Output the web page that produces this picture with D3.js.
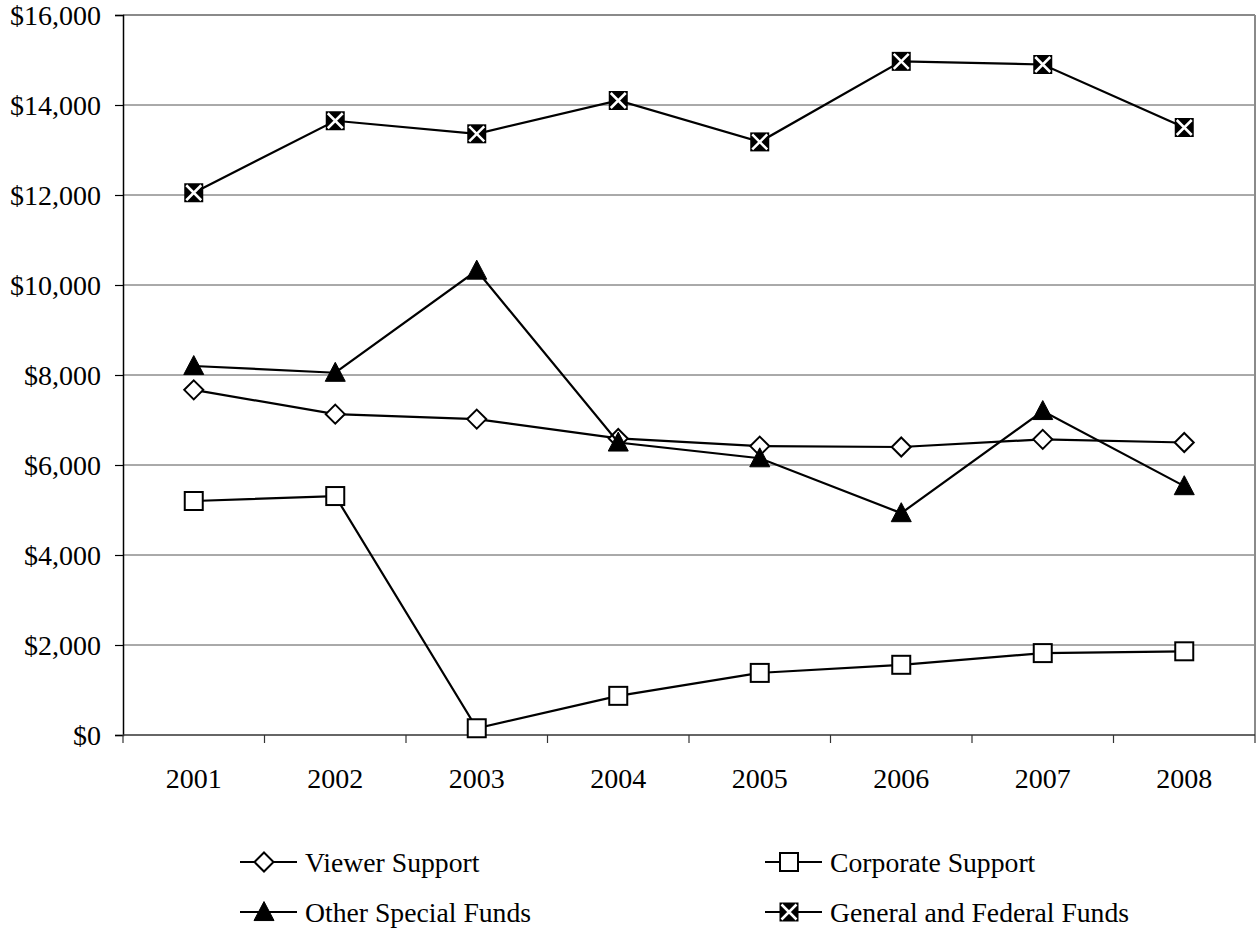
<!DOCTYPE html>
<html>
<head>
<meta charset="utf-8">
<script src="https://cdn.jsdelivr.net/npm/d3@7"></script>
<style>
  html, body { margin: 0; padding: 0; background: #fff; }
  svg { display: block; }
  text { font-family: "Liberation Serif", "Times New Roman", serif; fill: #000; }
</style>
</head>
<body>
<svg id="chart" width="1256" height="930"></svg>
<script>
// Funding sources by year (thousands of dollars)
const years = ["2001", "2002", "2003", "2004", "2005", "2006", "2007", "2008"];
const viewerSupport   = [7670, 7130, 7020, 6590, 6420, 6400, 6570, 6500];
const corporateSupport = [5200, 5310, 150, 870, 1380, 1560, 1820, 1860];
const otherSpecial    = [8200, 8050, 10320, 6500, 6150, 4930, 7200, 5530];
const generalFederal  = [12050, 13650, 13360, 14100, 13180, 14970, 14900, 13500];
const yTicks = [0, 2000, 4000, 6000, 8000, 10000, 12000, 14000, 16000];

const series = [
  { name: "Viewer Support", values: viewerSupport, marker: "diamond" },
  { name: "Corporate Support", values: corporateSupport, marker: "square" },
  { name: "Other Special Funds", values: otherSpecial, marker: "triangle" },
  { name: "General and Federal Funds", values: generalFederal, marker: "xsquare" }
];

const FONT = "Liberation Serif, Times New Roman, serif";
const FS = 28;
const LEGEND_FS = 27.7;

const svg = d3.select("#chart");
const plot = { left: 123, top: 15, right: 1255, bottom: 735 };

const x = d3.scaleBand().domain(years).range([plot.left, plot.right]);
const y = d3.scaleLinear().domain([0, 16000]).range([plot.bottom, plot.top]);

// horizontal gridlines
svg.append("g")
  .selectAll("line")
  .data(yTicks.filter(t => t > 0 && t < 16000))
  .join("line")
  .attr("x1", plot.left).attr("x2", plot.right)
  .attr("y1", d => y(d)).attr("y2", d => y(d))
  .attr("stroke", "#555").attr("stroke-width", 1);

// plot frame: top and right edges
svg.append("line")
  .attr("x1", plot.left).attr("x2", plot.right)
  .attr("y1", plot.top).attr("y2", plot.top)
  .attr("stroke", "#8a8a8a").attr("stroke-width", 2);
svg.append("line")
  .attr("x1", plot.right).attr("x2", plot.right)
  .attr("y1", plot.top).attr("y2", plot.bottom)
  .attr("stroke", "#8a8a8a").attr("stroke-width", 2);

// y axis
const yAxis = d3.axisLeft(y)
  .tickValues(yTicks)
  .tickSize(8)
  .tickPadding(14)
  .tickFormat(d => "$" + d3.format(",")(d));
const gy = svg.append("g")
  .attr("transform", `translate(${plot.left},0)`)
  .call(yAxis)
  .attr("font-family", FONT)
  .attr("font-size", FS);
gy.select(".domain").attr("stroke", "#000").attr("stroke-width", 1.5);
gy.selectAll(".tick line").attr("stroke", "#000").attr("stroke-width", 1.2);
gy.selectAll(".tick text").attr("dy", "0.34em");

// x axis: ticks at category boundaries, labels centered
const gx = svg.append("g").attr("transform", `translate(0,${plot.bottom})`);
gx.append("line")
  .attr("x1", plot.left).attr("x2", plot.right)
  .attr("y1", 0).attr("y2", 0)
  .attr("stroke", "#333").attr("stroke-width", 1.5);
const boundaries = years.map(d => x(d)).concat([plot.right]);
gx.selectAll("line.tk")
  .data(boundaries)
  .join("line")
  .attr("class", "tk")
  .attr("x1", d => d).attr("x2", d => d)
  .attr("y1", 0).attr("y2", 8)
  .attr("stroke", "#333").attr("stroke-width", 1.2);
gx.selectAll("text")
  .data(years)
  .join("text")
  .attr("x", d => x(d) + x.bandwidth() / 2)
  .attr("y", 53)
  .attr("text-anchor", "middle")
  .attr("font-size", FS)
  .text(d => d);

const cx = d => x(d) + x.bandwidth() / 2;

// marker drawing
function drawMarker(g, type, px, py) {
  if (type === "diamond") {
    const r = 9.5;
    g.append("path")
      .attr("d", `M${px},${py - r}L${px + r},${py}L${px},${py + r}L${px - r},${py}Z`)
      .attr("fill", "#fff").attr("stroke", "#000").attr("stroke-width", 2);
  } else if (type === "square") {
    const s = 18;
    g.append("rect")
      .attr("x", px - s / 2).attr("y", py - s / 2)
      .attr("width", s).attr("height", s)
      .attr("fill", "#fff").attr("stroke", "#000").attr("stroke-width", 2);
  } else if (type === "triangle") {
    const w = 20, h = 19;
    g.append("path")
      .attr("d", `M${px},${py - h * 0.55}L${px + w / 2},${py + h * 0.45}L${px - w / 2},${py + h * 0.45}Z`)
      .attr("fill", "#000").attr("stroke", "#000").attr("stroke-width", 1);
  } else if (type === "xsquare") {
    const s = 19;
    g.append("rect")
      .attr("x", px - s / 2).attr("y", py - s / 2)
      .attr("width", s).attr("height", s)
      .attr("fill", "#000");
    const a = s / 2 - 2;
    g.append("path")
      .attr("d", `M${px - a},${py - a}L${px + a},${py + a}M${px + a},${py - a}L${px - a},${py + a}`)
      .attr("stroke", "#fff").attr("stroke-width", 2.5);
  }
}

const line = d3.line().x((d, i) => cx(years[i])).y(d => y(d));

series.forEach(s => {
  const g = svg.append("g");
  g.append("path")
    .datum(s.values)
    .attr("d", line)
    .attr("fill", "none")
    .attr("stroke", "#000")
    .attr("stroke-width", 2.2);
  s.values.forEach((v, i) => drawMarker(g, s.marker, cx(years[i]), y(v)));
});

// legend
const legendPos = [
  { x: 240, y: 862 }, { x: 765, y: 862 },
  { x: 240, y: 912 }, { x: 765, y: 912 }
];
series.forEach((s, i) => {
  const p = legendPos[i];
  const g = svg.append("g");
  g.append("line")
    .attr("x1", p.x).attr("x2", p.x + 57)
    .attr("y1", p.y).attr("y2", p.y)
    .attr("stroke", "#000").attr("stroke-width", 2.2);
  drawMarker(g, s.marker, p.x + 24, p.y);
  g.append("text")
    .attr("x", p.x + 65).attr("y", p.y + 10)
    .attr("font-size", LEGEND_FS)
    .text(s.name);
});
</script>
</body>
</html>
